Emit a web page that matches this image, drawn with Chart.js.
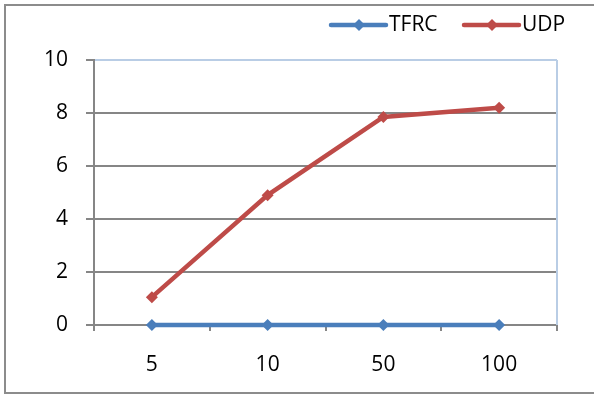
<!DOCTYPE html>
<html>
<head>
<meta charset="utf-8">
<script src="https://cdn.jsdelivr.net/npm/chart.js@4/dist/chart.umd.min.js"></script>
<style>
  html, body { margin: 0; padding: 0; background: #fff; }
  #wrap { width: 594px; height: 394px; position: relative; }
</style>
</head>
<body>
<div id="wrap"><canvas id="c" width="594" height="394"></canvas></div>
<script>
const categories = ['5', '10', '50', '100'];
const tfrcValues = [0, 0, 0, 0];
const udpValues = [1.05, 4.9, 7.85, 8.2];
const yTicks = [0, 2, 4, 6, 8, 10];

const FONT = '"Open Sans", Lato, sans-serif';
const FONT_SIZE = 21;
const BLUE = '#4A7EBB';
const RED = '#BE4B48';
const GRID = '#868686';
const FRAME = '#B9CDE5';

// Outer frame, right plot border and line+diamond legend
const decor = {
  id: 'decor',
  beforeDraw(chart) {
    const ctx = chart.ctx;
    ctx.save();
    ctx.strokeStyle = '#8C8C8C';
    ctx.lineWidth = 2;
    ctx.beginPath();
    ctx.moveTo(600, 5);
    ctx.lineTo(5, 5);
    ctx.lineTo(5, 393);
    ctx.lineTo(600, 393);
    ctx.stroke();
    ctx.restore();
  },
  afterDatasetsDraw(chart) {
    const ctx = chart.ctx;
    const a = chart.chartArea;
    ctx.save();
    ctx.strokeStyle = FRAME;
    ctx.lineWidth = 2;
    ctx.beginPath();
    ctx.moveTo(a.right, a.top);
    ctx.lineTo(a.right, a.bottom);
    ctx.stroke();

    const items = [
      { x: 331, ds: chart.data.datasets[0] },
      { x: 464, ds: chart.data.datasets[1] }
    ];
    const y = 25;
    items.forEach(it => {
      ctx.strokeStyle = it.ds.borderColor;
      ctx.lineWidth = 4.5;
      ctx.lineCap = 'round';
      ctx.beginPath();
      ctx.moveTo(it.x, y);
      ctx.lineTo(it.x + 55, y);
      ctx.stroke();
      const cx = it.x + 28;
      ctx.fillStyle = it.ds.borderColor;
      ctx.beginPath();
      ctx.moveTo(cx, y - 6);
      ctx.lineTo(cx + 6, y);
      ctx.lineTo(cx, y + 6);
      ctx.lineTo(cx - 6, y);
      ctx.closePath();
      ctx.fill();
      ctx.fillStyle = '#000';
      ctx.font = FONT_SIZE + 'px ' + FONT;
      ctx.textBaseline = 'middle';
      ctx.textAlign = 'left';
      ctx.fillText(it.ds.label, it.x + 58, y);
    });
    ctx.restore();
  }
};

new Chart(document.getElementById('c'), {
  type: 'line',
  data: {
    labels: categories,
    datasets: [
      {
        label: 'TFRC',
        data: tfrcValues,
        borderColor: BLUE,
        backgroundColor: BLUE,
        borderWidth: 4.5,
        pointStyle: 'rectRot',
        pointRadius: 6,
        pointBorderWidth: 0,
        tension: 0,
        clip: false
      },
      {
        label: 'UDP',
        data: udpValues,
        borderColor: RED,
        backgroundColor: RED,
        borderWidth: 4.5,
        pointStyle: 'rectRot',
        pointRadius: 6,
        pointBorderWidth: 0,
        tension: 0,
        clip: false
      }
    ]
  },
  options: {
    responsive: false,
    animation: false,
    layout: { padding: { top: 60, right: 37, left: 0, bottom: 0 } },
    plugins: { legend: { display: false }, tooltip: { enabled: false } },
    scales: {
      x: {
        type: 'category',
        offset: true,
        afterFit(scale) { scale.height = 69; },
        grid: {
          offset: true,
          drawOnChartArea: false,
          drawTicks: true,
          tickLength: 6,
          color: GRID,
          lineWidth: 2
        },
        border: { display: true, color: GRID, width: 2 },
        ticks: { color: '#000', font: { family: FONT, size: FONT_SIZE }, padding: 21, maxRotation: 0 }
      },
      y: {
        min: 0,
        max: 10,
        afterFit(scale) { scale.width = 94; },
        afterBuildTicks(scale) { scale.ticks = yTicks.map(v => ({ value: v })); },
        grid: {
          color: ctx => (ctx.tick && ctx.tick.value === 10 ? FRAME : GRID),
          tickColor: GRID,
          lineWidth: 2,
          drawTicks: true,
          tickLength: 8
        },
        border: { display: true, color: GRID, width: 2 },
        ticks: { color: '#000', font: { family: FONT, size: FONT_SIZE }, padding: 18 }
      }
    }
  },
  plugins: [decor]
});
</script>
</body>
</html>
